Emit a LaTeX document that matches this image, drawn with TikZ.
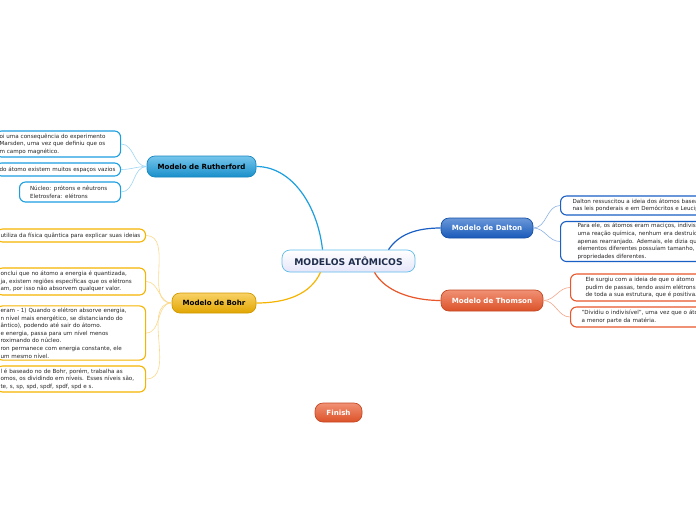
\documentclass[tikz,border=0pt]{standalone}
\usepackage{fontspec}
\setmainfont{DejaVu Sans}
\definecolor{rb}{HTML}{1B9FE0}
\definecolor{rbl}{HTML}{9FD6F3}
\definecolor{bo}{HTML}{F5B400}
\definecolor{bol}{HTML}{FCD98A}
\definecolor{db}{HTML}{1A5FC4}
\definecolor{dbl}{HTML}{8FB3E6}
\definecolor{th}{HTML}{E8562A}
\definecolor{thl}{HTML}{F3A78B}
\definecolor{navy}{HTML}{1F2D4D}
\begin{document}
\begin{tikzpicture}[x=1pt,y=-1pt,
  branch/.style={rounded corners=8pt, font=\fontsize{7.1}{8.5}\selectfont\bfseries, inner sep=0pt, line width=0.7pt},
  leaf/.style={draw, fill=white, rounded corners=6pt, line width=1.1pt, align=left,
    font=\fontsize{5.6}{7.6}\selectfont, inner ysep=2pt, anchor=west, text=black!85},
  main/.style={line width=1.2pt},
  sub/.style={line width=0.6pt}]
\useasboundingbox (0,0) rectangle (696,520);
\fill[white] (0,0) rectangle (696,520);
\clip (0,0) rectangle (696,520);

% central
\node[branch, draw=rb!70, top color=white, bottom color=black!18!blue!10, text=navy,
  font=\fontsize{9.2}{11}\selectfont\bfseries, minimum width=133pt, minimum height=22pt]
  (center) at (348.5,261) {MODELOS ATÔMICOS};

% branches
\node[branch, draw=rb!85!black, top color=rb!60, bottom color=rb!90!black, text=black,
  minimum width=109pt, minimum height=21pt] (rut) at (201.5,166.5) {Modelo de Rutherford};
\node[branch, draw=bo!85!black, top color=bo!60, bottom color=bo!92!black, text=black,
  minimum width=84pt, minimum height=20pt] (bohr) at (214,303) {Modelo de Bohr};
\node[branch, draw=db!85!black, top color=db!65, bottom color=db!95!black, text=white,
  minimum width=92pt, minimum height=20pt] (dal) at (487,228) {Modelo de Dalton};
\node[branch, draw=th!85!black, top color=th!65, bottom color=th!95!black, text=white,
  minimum width=102pt, minimum height=21pt] (thom) at (492,300.5) {Modelo de Thomson};
\node[branch, draw=th!85!black, top color=th!65, bottom color=th!95!black, text=white,
  minimum width=47pt, minimum height=19pt] (fin) at (338.5,412.5) {Finish};

% Rutherford leaves
\node[leaf, draw=rb, inner xsep=4pt, text width=117pt, minimum height=26pt] (r1) at (-5,144)
  {oi uma consequência do experimento\\Marsden, uma vez que definiu que os\\m campo magnético.};
\node[leaf, draw=rb, inner xsep=4pt, text width=117pt, minimum height=13pt] (r2) at (-5,169.5)
  {do átomo existem muitos espaços vazios};
\node[leaf, draw=rb, inner xsep=10.5pt, text width=80pt, minimum height=20pt] (r3) at (19,192)
  {Núcleo: prótons e nêutrons\\Eletrosfera: elétrons};

% Bohr leaves
\node[leaf, draw=bo, inner xsep=4pt, text width=141pt, minimum height=13pt] (b1) at (-4,235.5)
  {utiliza da física quântica para explicar suas ideias};
\node[leaf, draw=bo, inner xsep=4pt, text width=141pt, minimum height=27pt] (b2) at (-4,281.5)
  {onclui que no átomo a energia é quantizada,\\ja, existem regiões específicas que os elétrons\\am, por isso não absorvem qualquer valor.};
\node[leaf, draw=bo, inner xsep=4pt, text width=141pt, minimum height=52pt] (b3) at (-4,333)
  {eram - 1) Quando o elétron absorve energia,\\n nível mais energético, se distanciando do\\ântico), podendo até sair do átomo.\\e energia, passa para um nível menos\\roximando do núcleo.\\ron permanece com energia constante, ele\\um mesmo nível.};
\node[leaf, draw=bo, inner xsep=4pt, text width=141pt, minimum height=26pt] (b4) at (-4,379)
  {l é baseado no de Bohr, porém, trabalha as\\omos, os dividindo em níveis. Esses níveis são,\\te, s, sp, spd, spdf, spdf, spd e s.};

% Dalton leaves
\node[leaf, draw=db, inner xsep=12pt, text width=160pt, minimum height=19pt] (d1) at (560,205.5)
  {Dalton ressuscitou a ideia dos átomos basea\\nas leis ponderais e em Demócritos e Leucip};
\node[leaf, draw=db, inner xsep=17pt, text width=160pt, minimum height=39pt] (d2) at (560,241.5)
  {Para ele, os átomos eram maciços, indivisív\\uma reação química, nenhum era destruído\\apenas rearranjado. Ademais, ele dizia que\\elementos diferentes possuíam tamanho, m\\propriedades diferentes.};

% Thomson leaves
\node[leaf, draw=th, inner xsep=15pt, text width=160pt, minimum height=27pt] (t1) at (570,287.5)
  {Ele surgiu com a ideia de que o átomo e\\pudim de passas, tendo assim elétrons\\de toda a sua estrutura, que é positiva.};
\node[leaf, draw=th, inner xsep=11pt, text width=160pt, minimum height=20pt] (t2) at (570,317)
  {"Dividiu o indivisível", uma vez que o áto\\a menor parte da matéria.};

% main connectors
\draw[main, rb] (rut.east) .. controls +(35,0) and +(-5,-45) .. ([xshift=-26pt]center.north);
\draw[main, db] ([xshift=40pt]center.north) .. controls +(10,-15) and +(-25,0) .. (dal.west);
\draw[main, bo] ([xshift=-28pt]center.south) .. controls +(-10,22) and +(30,0) .. (bohr.east);
\draw[main, th] ([xshift=26pt]center.south) .. controls +(10,18) and +(-30,0) .. (thom.west);

% leaf connectors
\foreach \l in {r1,r2,r3} \draw[sub, rbl] (rut.west) to[out=180,in=0] (\l.east);
\foreach \l in {b1,b2,b3,b4} \draw[sub, bol] (bohr.west) to[out=180,in=0] (\l.east);
\foreach \l in {d1,d2} \draw[sub, dbl] (dal.east) to[out=0,in=180] (\l.west);
\foreach \l in {t1,t2} \draw[sub, thl] (thom.east) to[out=0,in=180] (\l.west);
\end{tikzpicture}
\end{document}
